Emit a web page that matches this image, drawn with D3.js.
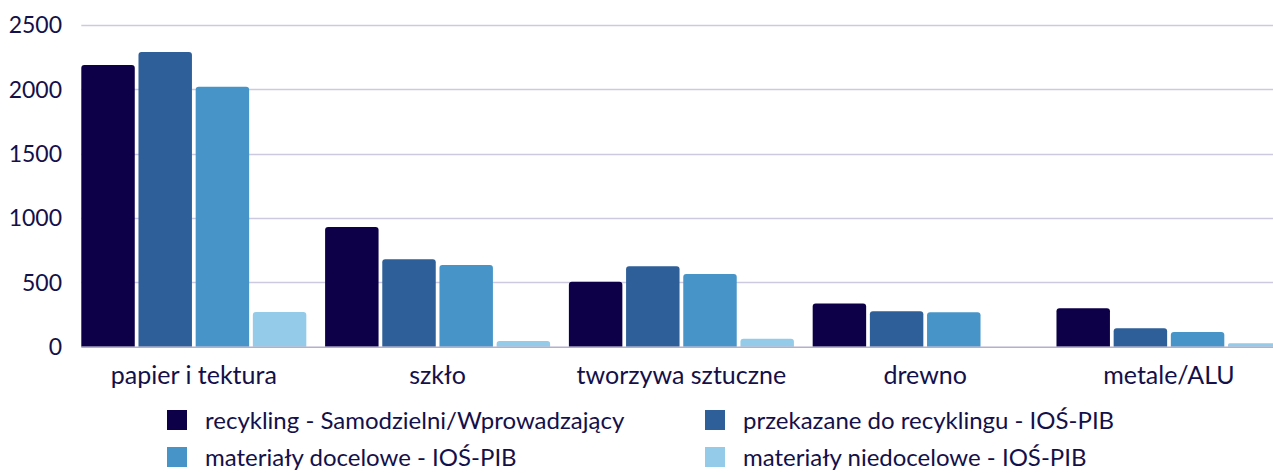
<!DOCTYPE html>
<html>
<head>
<meta charset="utf-8">
<script src="https://cdn.jsdelivr.net/npm/d3@7"></script>
<style>
  body { margin: 0; background: #fff; }
  text { font-family: Lato, "Open Sans", sans-serif; fill: #14104a; }
</style>
</head>
<body>
<div id="chartCont"></div>
<script>
// categories along the x axis
const categories = ["papier i tektura", "szkło", "tworzywa sztuczne", "drewno", "metale/ALU"];

// series names (legend order)
const seriesNames = [
  "recykling - Samodzielni/Wprowadzający",
  "przekazane do recyklingu - IOŚ-PIB",
  "materiały docelowe - IOŚ-PIB",
  "materiały niedocelowe - IOŚ-PIB"
];

// values, one array per series
const recykling = [2190, 930, 505, 335, 298];
const przekazane = [2290, 680, 625, 275, 143];
const docelowe = [2020, 635, 565, 268, 114];
const niedocelowe = [270, 44, 62, 0, 26];

const yTicks = [0, 500, 1000, 1500, 2000, 2500];
const colors = ["#0e0048", "#2e5f98", "#4795c8", "#94cbe8"];

(function() {
  let width = 1273,
    height = 473;

  let svg = d3.select("#chartCont")
    .append("svg")
    .attr("width", width)
    .attr("height", height);

  let allSeries = [recykling, przekazane, docelowe, niedocelowe];
  let rows = categories.map(function(c, i) {
    return { cat: c, vals: allSeries.map(function(s, j) { return { key: j, value: s[i] }; }) };
  });

  let left = 81.3, top = 25, bottom = 346.7;

  let y = d3.scaleLinear().domain([0, 2500]).range([bottom, top]);

  let x0 = d3.scaleBand()
    .domain(categories)
    .range([left, left + 5 * 243.8 - 18.8])
    .paddingInner(0.077)
    .paddingOuter(0);

  let x1 = d3.scaleBand()
    .domain(d3.range(seriesNames.length))
    .range([0, x0.bandwidth()])
    .paddingInner(0.065);

  // gridlines
  svg.append("g").selectAll("line")
    .data(yTicks.filter(function(d) { return d > 0; }))
    .enter().append("line")
    .attr("x1", left).attr("x2", width)
    .attr("y1", function(d) { return Math.round(y(d)) + 0.5; })
    .attr("y2", function(d) { return Math.round(y(d)) + 0.5; })
    .attr("stroke", "#cdc9df")
    .attr("stroke-width", 1.3);

  // y tick labels
  svg.append("g").selectAll("text")
    .data(yTicks)
    .enter().append("text")
    .attr("x", 62)
    .attr("y", function(d) { return y(d); })
    .attr("dy", "0.36em")
    .attr("text-anchor", "end")
    .style("font-size", "23px")
    .text(function(d) { return d; });

  // rounded-top bar path
  function barPath(x, yTop, w, h) {
    let r = Math.min(3, h / 2, w / 2);
    if (h <= 0) return "";
    return "M" + x + "," + (yTop + h) +
      "V" + (yTop + r) +
      "Q" + x + "," + yTop + " " + (x + r) + "," + yTop +
      "H" + (x + w - r) +
      "Q" + (x + w) + "," + yTop + " " + (x + w) + "," + (yTop + r) +
      "V" + (yTop + h) + "Z";
  }

  let groups = svg.append("g").selectAll("g")
    .data(rows)
    .enter().append("g")
    .attr("transform", function(d) { return "translate(" + x0(d.cat) + ",0)"; });

  groups.selectAll("path")
    .data(function(d) { return d.vals; })
    .enter().append("path")
    .attr("d", function(d) {
      return barPath(x1(d.key), y(d.value), x1.bandwidth(), bottom - y(d.value));
    })
    .attr("fill", function(d) { return colors[d.key]; });

  // baseline
  svg.append("line")
    .attr("x1", left).attr("x2", width)
    .attr("y1", bottom + 0.5).attr("y2", bottom + 0.5)
    .attr("stroke", "#b4afcb")
    .attr("stroke-width", 1.5);

  // category labels
  svg.append("g").selectAll("text")
    .data(categories)
    .enter().append("text")
    .attr("x", function(d) { return x0(d) + x0.bandwidth() / 2; })
    .attr("y", 384)
    .attr("text-anchor", "middle")
    .style("font-size", "25px")
    .text(function(d) { return d; });

  // legend
  let legendPos = [[167, 420], [705, 420], [167, 457], [705, 457]];
  let legend = svg.append("g").selectAll("g")
    .data(seriesNames)
    .enter().append("g")
    .attr("transform", function(d, i) { return "translate(" + legendPos[i][0] + "," + legendPos[i][1] + ")"; });

  legend.append("rect")
    .attr("x", 0).attr("y", -10)
    .attr("width", 20).attr("height", 20)
    .attr("fill", function(d, i) { return colors[i]; });

  legend.append("text")
    .attr("x", 38)
    .attr("y", 0)
    .attr("dy", "0.36em")
    .style("font-size", "24px")
    .text(function(d) { return d; });
})();
</script>
</body>
</html>
